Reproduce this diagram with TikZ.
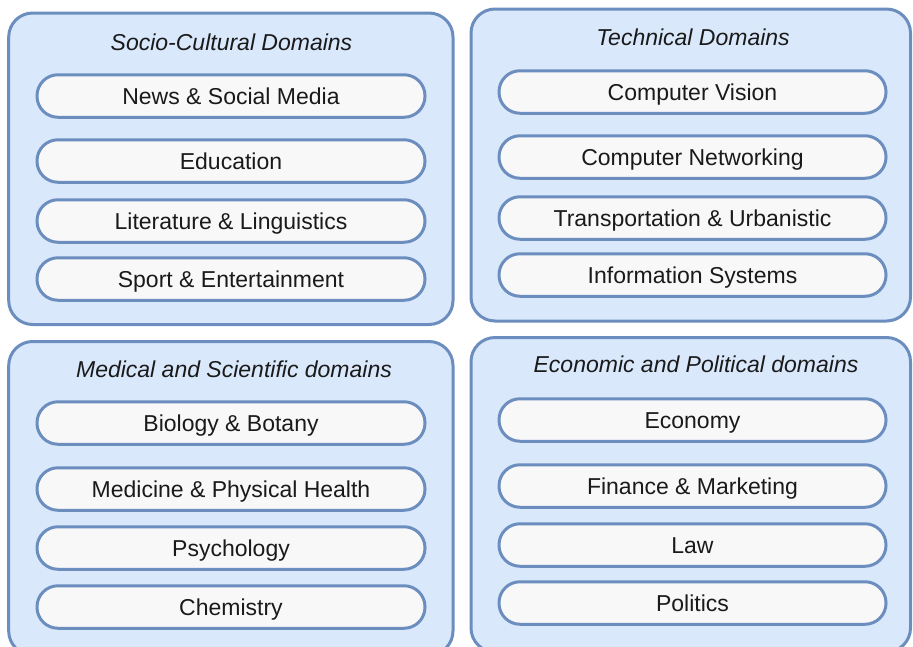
\documentclass[tikz,border=0pt]{standalone}
\usepackage{fontspec}
\setmainfont{Liberation Sans}
\usetikzlibrary{positioning}
\definecolor{boxfill}{HTML}{DAE8FC}
\definecolor{boxline}{HTML}{6C8EBF}
\definecolor{pillfill}{HTML}{F8F8F8}
\definecolor{txt}{HTML}{1A1A1A}
\tikzset{
  domainbox/.style={draw=boxline, fill=boxfill, line width=3pt, rounded corners=24pt, inner sep=0pt},
  pill/.style={draw=boxline, fill=pillfill, line width=3pt, rounded corners=21pt,
    minimum height=42.5pt, inner sep=0pt, text=txt, font=\fontsize{23}{27}\selectfont,
    text height=16.5pt, text depth=0pt},
  leftpill/.style={pill, minimum width=388pt},
  rightpill/.style={pill, minimum width=387pt},
  boxtitle/.style={inner sep=0pt, text=txt, font=\fontsize{23}{27}\selectfont\itshape,
    text height=16.5pt, text depth=0pt}
}
\begin{document}
\begin{tikzpicture}[x=1pt, y=-1pt]
\useasboundingbox (0,0) rectangle (913,646);
\clip (0,0) rectangle (913,646);
% outer domain boxes
\node[domainbox, minimum width=444.3pt, minimum height=311.5pt] (tl) at (230.85,168.75) {};
\node[domainbox, minimum width=439.5pt, minimum height=312pt] (tr) at (690.75,165) {};
\node[domainbox, minimum width=444.3pt, minimum height=313.5pt] (bl) at (230.85,498.25) {};
\node[domainbox, minimum width=439.5pt, minimum height=314.5pt] (br) at (690.75,494.75) {};
% titles
\node[boxtitle] (tlt) at (231.5,42) {Socio-Cultural Domains};
\node[boxtitle] (trt) at (693,37) {Technical Domains};
\node[boxtitle] (blt) at (234,369) {Medical and Scientific domains};
\node[boxtitle] (brt) at (696,364) {Economic and Political domains};
% socio-cultural
\node[leftpill] (news) at (231,96) {News \& Social Media};
\node[leftpill] (edu) at (231,161) {Education};
\node[leftpill] (lit) at (231,221) {Literature \& Linguistics};
\node[leftpill] (sport) at (231,279) {Sport \& Entertainment};
% technical
\node[rightpill] (cv) at (692.5,92) {Computer Vision};
\node[rightpill] (cn) at (692.5,157) {Computer Networking};
\node[rightpill] (tu) at (692.5,218) {Transportation \& Urbanistic};
\node[rightpill] (is) at (692.5,275) {Information Systems};
% medical
\node[leftpill] (bio) at (231,423) {Biology \& Botany};
\node[leftpill] (med) at (231,489) {Medicine \& Physical Health};
\node[leftpill] (psy) at (231,548) {Psychology};
\node[leftpill] (chem) at (231,607) {Chemistry};
% economic
\node[rightpill] (eco) at (692.5,420) {Economy};
\node[rightpill] (fin) at (692.5,486) {Finance \& Marketing};
\node[rightpill] (law) at (692.5,545) {Law};
\node[rightpill] (pol) at (692.5,603) {Politics};
\end{tikzpicture}
\end{document}
